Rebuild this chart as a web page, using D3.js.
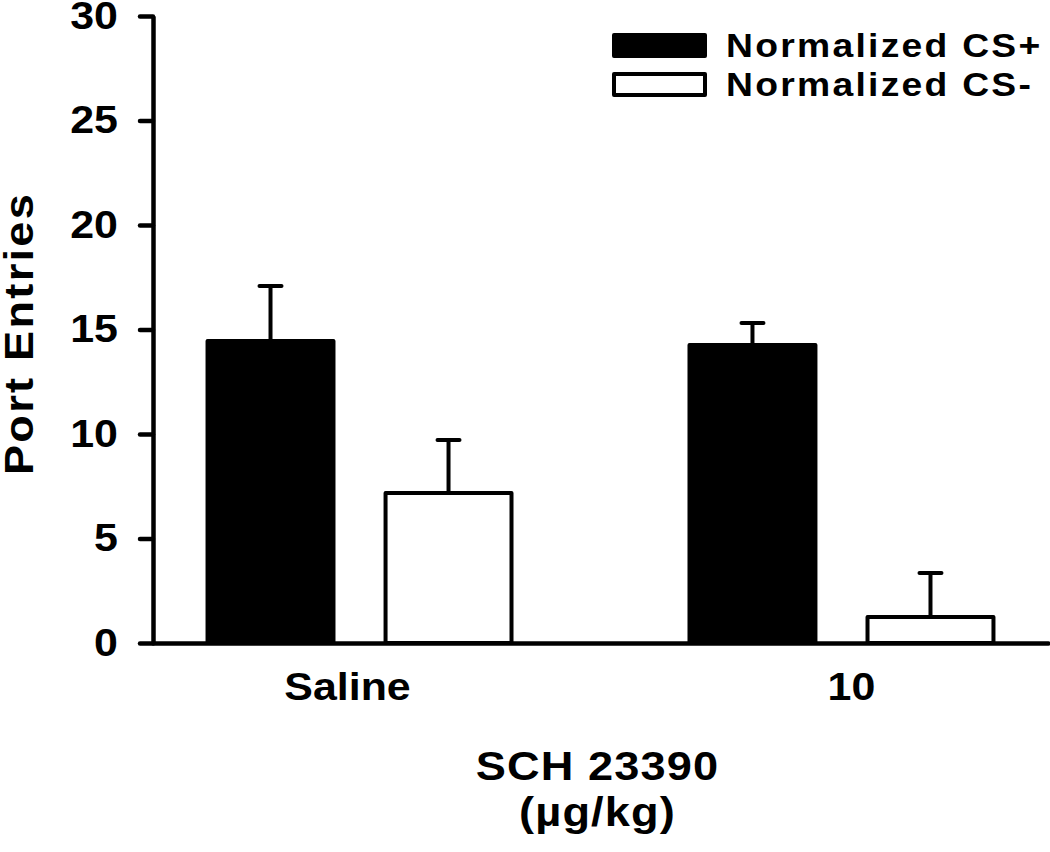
<!DOCTYPE html>
<html>
<head>
<meta charset="utf-8">
<script src="https://cdn.jsdelivr.net/npm/d3@7"></script>
<style>
  body { margin: 0; background: #fff; }
  svg text { font-family: "Liberation Sans", Arial, Helvetica, sans-serif; font-weight: 700; fill: #000; }
</style>
</head>
<body>
<svg width="1050" height="852"></svg>
<script>
var svg = d3.select("svg");

// data
var groups = ["Saline", "10"];
var series = ["Normalized CS+", "Normalized CS-"];
var csPlus = [14.45, 14.26];
var csPlusErr = [2.63, 1.05];
var csMinus = [7.18, 1.24];
var csMinusErr = [2.53, 2.11];
var yTicks = [0, 5, 10, 15, 20, 25, 30];
var fills = ["#000", "#fff"];

var plotLeft = 153, plotRight = 1048, plotTop = 16, plotBottom = 643;
var sw = 4;    // stroke width used everywhere
var sx = 1.13; // the original lettering is a wide bold face

var rows = [];
groups.forEach(function(g, i) {
  rows.push({group: g, s: series[0], v: csPlus[i], e: csPlusErr[i], fill: fills[0]});
  rows.push({group: g, s: series[1], v: csMinus[i], e: csMinusErr[i], fill: fills[1]});
});

var x0 = d3.scaleBand()
  .domain(groups)
  .range([plotLeft, plotRight])
  .paddingInner(0.361)
  .paddingOuter(0.109);

var x1 = d3.scaleBand()
  .domain(series)
  .range([0, x0.bandwidth()])
  .paddingInner(0.27);

var y = d3.scaleLinear()
  .domain([0, 30])
  .range([plotBottom, plotTop]);

var cx = d => x0(d.group) + x1(d.s) + x1.bandwidth() / 2;

// bars
svg.append("g").selectAll("rect")
  .data(rows)
  .enter().append("rect")
    .attr("x", d => x0(d.group) + x1(d.s) + sw / 2)
    .attr("width", x1.bandwidth() - sw)
    .attr("y", d => y(d.v))
    .attr("height", d => y(0) - y(d.v))
    .attr("fill", d => d.fill)
    .attr("stroke", "#000")
    .attr("stroke-width", sw)
    .attr("stroke-linejoin", "round");

// error bars (upper only)
var eb = svg.append("g").selectAll("g")
  .data(rows)
  .enter().append("g");
eb.append("line")
    .attr("x1", cx)
    .attr("x2", cx)
    .attr("y1", d => y(d.v))
    .attr("y2", d => y(d.v + d.e))
    .attr("stroke", "#000")
    .attr("stroke-width", sw);
eb.append("line")
    .attr("x1", d => cx(d) - 11)
    .attr("x2", d => cx(d) + 11)
    .attr("y1", d => y(d.v + d.e))
    .attr("y2", d => y(d.v + d.e))
    .attr("stroke", "#000")
    .attr("stroke-width", sw)
    .attr("stroke-linecap", "round");

// y axis
var yAxis = d3.axisLeft(y)
  .tickValues(yTicks)
  .tickSize(13)
  .tickSizeOuter(0)
  .tickPadding(22);
var gy = svg.append("g")
    .attr("transform", "translate(" + plotLeft + ",0)")
  .call(yAxis)
    .attr("font-family", null)
    .attr("font-size", null);
gy.select(".domain").attr("stroke-width", 4.5);
gy.selectAll(".tick line").attr("stroke-width", 4.5).attr("stroke-linecap", "round");
gy.selectAll(".tick text")
    .attr("font-size", 38)
    .attr("x", -35 / sx)
    .attr("transform", "scale(" + sx + ",1)");

// x axis
var xAxis = d3.axisBottom(x0)
  .tickSize(0)
  .tickSizeOuter(0)
  .tickPadding(30);
var gx = svg.append("g")
    .attr("transform", "translate(0," + plotBottom + ")")
  .call(xAxis)
    .attr("font-family", null)
    .attr("font-size", null);
gx.select(".domain").attr("stroke-width", 4.5).attr("stroke-linecap", "round");
gx.selectAll(".tick text")
    .attr("font-size", 38)
    .attr("transform", "scale(" + sx + ",1)")
    .attr("dx", (d, i) => (i === 0 ? -12 : 10) / sx);

// axis titles
svg.append("text")
    .attr("text-anchor", "middle")
    .attr("font-size", 40)
    .style("letter-spacing", "2px")
    .attr("transform", "translate(33," + ((plotTop + plotBottom) / 2 + 4) + ") rotate(-90) scale(" + sx + ",1)")
    .text("Port Entries");

var xt = svg.append("text")
    .attr("text-anchor", "middle")
    .attr("font-size", 40)
    .style("letter-spacing", "1px")
    .attr("transform", "translate(" + ((plotLeft + plotRight) / 2 - 3) + ",0) scale(" + sx + ",1)");
xt.append("tspan").attr("x", 0).attr("y", 780).text("SCH 23390");
xt.append("tspan").attr("x", 0).attr("y", 826).text("(µg/kg)");

// legend
var legend = svg.append("g").selectAll("g")
  .data(series)
  .enter().append("g")
    .attr("transform", (d, i) => "translate(614," + (35 + i * 39) + ")");
legend.append("rect")
    .attr("width", 91)
    .attr("height", 21)
    .attr("fill", (d, i) => fills[i])
    .attr("stroke", "#000")
    .attr("stroke-width", sw)
    .attr("stroke-linejoin", "round");
legend.append("text")
    .attr("transform", "translate(112,22) scale(" + sx + ",1)")
    .attr("font-size", 33)
    .style("letter-spacing", "2px")
    .text(d => d);
</script>
</body>
</html>
